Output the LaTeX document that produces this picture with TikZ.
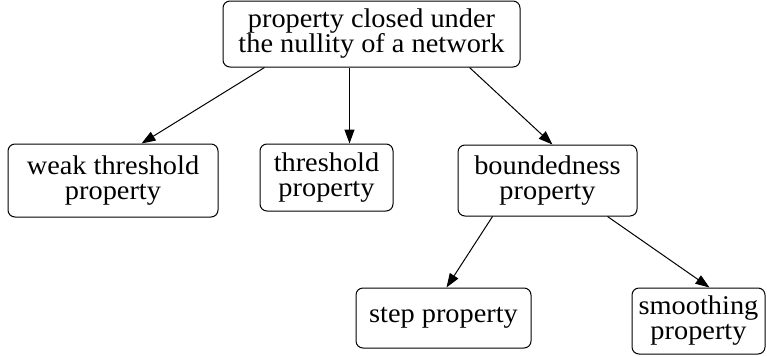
\documentclass[tikz,border=0pt]{standalone}
\usepackage{fontspec}
\setmainfont{Liberation Serif}[FakeStretch=1.05]
\usetikzlibrary{arrows.meta}
\begin{document}
\begin{tikzpicture}[x=1pt,y=-1pt,
  box/.style={draw, line width=1pt, rounded corners=7pt, inner sep=0pt, align=center,
    font=\fontsize{27}{25}\selectfont},
  conn/.style={line width=1pt, -{Triangle[length=14pt,width=10pt]}}]
\useasboundingbox (0,0) rectangle (767,356);
\node[box, minimum width=297pt, minimum height=66pt] (top) at (371.5,34) {property closed under\\the nullity of a network};
\node[box, minimum width=210pt, minimum height=73pt] (weak) at (113,180.5) {weak threshold\\property};
\node[box, minimum width=133pt, minimum height=67pt] (thr) at (326.5,177.5) {threshold\\property};
\node[box, minimum width=179pt, minimum height=71pt] (bnd) at (547.5,180.5) {boundedness\\property};
\node[box, minimum width=175pt, minimum height=60pt] (step) at (443.5,318) {step property};
\node[box, minimum width=133pt, minimum height=66pt] (smooth) at (698.5,321) {smoothing\\property};
\draw[conn] ([xshift=42pt]top.south west) -- ([xshift=134pt]weak.north west);
\draw[conn] ([xshift=127pt]top.south west) -- ([xshift=90pt]thr.north west);
\draw[conn] ([xshift=247pt]top.south west) -- ([xshift=95pt]bnd.north west);
\draw[conn] ([xshift=35pt]bnd.south west) -- ([xshift=91pt]step.north west);
\draw[conn] ([xshift=150pt]bnd.south west) -- ([xshift=78pt]smooth.north west);
\end{tikzpicture}
\end{document}
